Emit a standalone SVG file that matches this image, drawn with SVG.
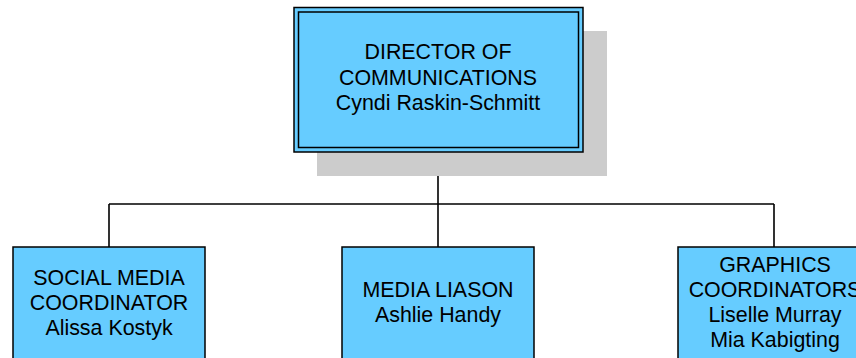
<svg xmlns="http://www.w3.org/2000/svg" width="856" height="358" viewBox="0 0 856 358">
<style>
.box{fill:#66CCFF;stroke:#000;stroke-width:1.5}
.t{font-family:"Liberation Sans",Arial,sans-serif;font-size:21.4px;fill:#000;text-anchor:middle}
.c{fill:none;stroke:#000;stroke-width:1.6}
</style>
<rect width="856" height="358" fill="#fff"/>
<g id="connectors">
<path class="c" d="M438,152 V204 M109,204 H774 M109,204 V247 M438,204 V247 M774,204 V247"/>
</g>
<g id="director">
<rect x="317" y="31" width="290" height="145" fill="#CCCCCC"/>
<rect class="box" x="294" y="7.5" width="289" height="144.5" stroke-width="2"/>
<rect x="298.5" y="12" width="280" height="135.5" fill="none" stroke="#000" stroke-width="1.5"/>
<text class="t" x="438" y="59">DIRECTOR OF</text>
<text class="t" x="438" y="84.5">COMMUNICATIONS</text>
<text class="t" x="438" y="110">Cyndi Raskin-Schmitt</text>
</g>
<g id="social">
<rect class="box" x="13" y="247" width="192" height="120"/>
<text class="t" x="109" y="285">SOCIAL MEDIA</text>
<text class="t" x="109" y="310">COORDINATOR</text>
<text class="t" x="109" y="335">Alissa Kostyk</text>
</g>
<g id="media">
<rect class="box" x="342" y="247" width="192" height="120"/>
<text class="t" x="438" y="297">MEDIA LIASON</text>
<text class="t" x="438" y="322">Ashlie Handy</text>
</g>
<g id="graphics">
<rect class="box" x="678" y="247" width="192" height="120"/>
<text class="t" x="775" y="272">GRAPHICS</text>
<text class="t" x="775" y="297">COORDINATORS</text>
<text class="t" x="775" y="322">Liselle Murray</text>
<text class="t" x="775" y="347">Mia Kabigting</text>
</g>
</svg>
